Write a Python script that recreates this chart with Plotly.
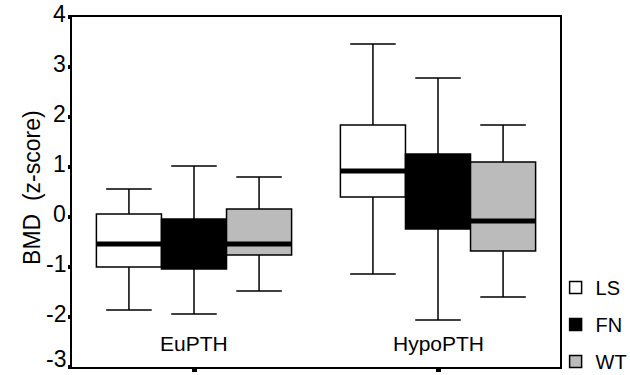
import plotly.graph_objects as go

groups = ["EuPTH", "HypoPTH"]
series = ["LS", "FN", "WT"]
fills = {"LS": "#ffffff", "FN": "#000000", "WT": "#bbbbbb"}

lower = {"LS": [-1.86, -1.14], "FN": [-1.94, -2.06], "WT": [-1.48, -1.60]}
q1 = {"LS": [-1.00, 0.40], "FN": [-1.04, -0.24], "WT": [-0.76, -0.68]}
median = {"LS": [-0.54, 0.92], "FN": [-0.50, 0.50], "WT": [-0.54, -0.08]}
q3 = {"LS": [0.06, 1.84], "FN": [-0.04, 1.26], "WT": [0.16, 1.10]}
upper = {"LS": [0.56, 3.46], "FN": [1.02, 2.78], "WT": [0.80, 1.84]}

y_ticks = [-3, -2, -1, 0, 1, 2, 3, 4]
y_tick_text = ["-3", "-2", "-1", "0", "1", "2", "3", "4"]

FONT = "Liberation Sans, Arial, Helvetica, sans-serif"

fig = go.Figure()
for s in series:
    fig.add_trace(go.Box(
        name=s, x=groups, q1=q1[s], median=median[s], q3=q3[s],
        lowerfence=lower[s], upperfence=upper[s],
        fillcolor=fills[s], line=dict(color="black", width=1.5),
        whiskerwidth=0.7, offsetgroup=s, legendgroup=s,
        boxpoints=False,
    ))
for s in series:
    fig.add_trace(go.Box(
        name=s + " median", x=groups, q1=median[s], median=median[s], q3=median[s],
        lowerfence=median[s], upperfence=median[s],
        fillcolor="black", line=dict(color="black", width=5),
        whiskerwidth=0, offsetgroup=s, legendgroup=s, showlegend=False,
        hoverinfo="skip", boxpoints=False,
    ))

annotations = [dict(text="BMD  (z-score)", textangle=-90, xref="paper", yref="paper",
                    x=-0.113, y=0.514, showarrow=False,
                    font=dict(family=FONT, size=23, color="black"))]
for g in groups:
    annotations.append(dict(text=g, x=g, xref="x", y=0.066, yref="paper",
                            yanchor="middle", showarrow=False,
                            font=dict(family=FONT, size=21, color="black")))
# y tick labels, nudged slightly above their ticks as in the reference
lowest = min(y_ticks)
for v, t in zip(y_ticks, y_tick_text):
    annotations.append(dict(text=t, x=0, xref="paper", xanchor="right", xshift=-4,
                            y=v, yref="y", yanchor="middle",
                            yshift=8 if v == lowest else 3,
                            showarrow=False,
                            font=dict(family=FONT, size=23, color="black")))

fig.update_layout(
    width=630, height=375,
    margin=dict(l=72, r=70, t=17, b=8, autoexpand=False),
    paper_bgcolor="white", plot_bgcolor="white",
    boxmode="group", boxgap=0.2, boxgroupgap=0,
    font=dict(family=FONT, size=20, color="black"),
    showlegend=True,
    legend=dict(x=0.991, xanchor="left", y=0.283, yanchor="top",
                tracegroupgap=8, font=dict(family=FONT, size=20, color="black"),
                bgcolor="rgba(0,0,0,0)"),
    xaxis=dict(range=[-0.5, 1.5], showline=True, linecolor="black", linewidth=1.5,
               mirror=True, ticks="outside", ticklen=3, tickwidth=5, tickcolor="black",
               showticklabels=False, showgrid=False, zeroline=False),
    yaxis=dict(range=[-3.002, 4], tickvals=y_ticks, showticklabels=False,
               showline=True, linecolor="black",
               linewidth=1.8, mirror=True, ticks="outside", ticklen=2, tickwidth=4,
               tickcolor="black", showgrid=False, zeroline=False),
    annotations=annotations,
)

fig.write_html("out.html")
